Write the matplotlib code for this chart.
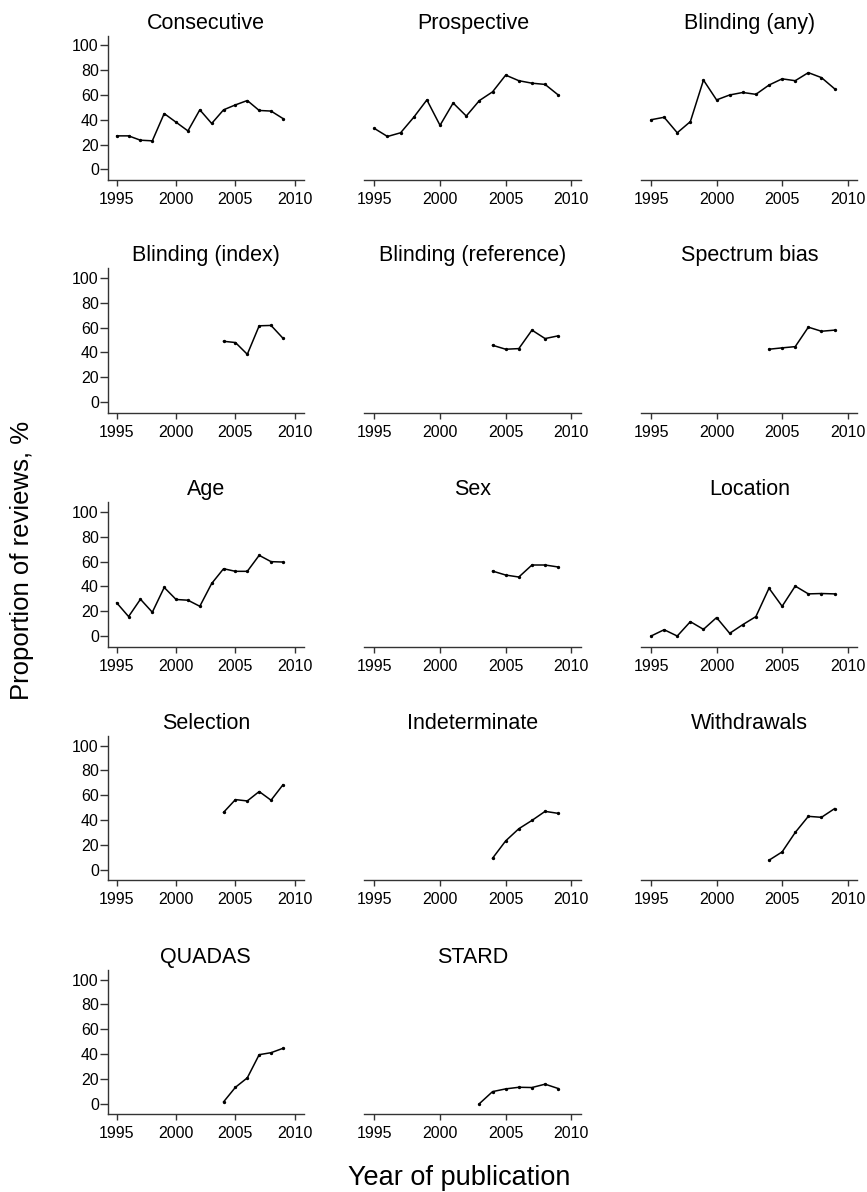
import matplotlib.pyplot as plt

plt.rcParams['font.family'] = ['Liberation Sans', 'DejaVu Sans']

# years
years = list(range(1995, 2010))
late_years = list(range(2004, 2010))
stard_years = list(range(2003, 2010))

# proportion of reviews (%)
consecutive = [27, 27, 23.5, 23, 45, 38, 31, 48, 37, 48, 52, 55.5, 47.5, 47, 41]
prospective = [33, 26.5, 29.5, 42, 56, 35.5, 53.5, 43, 55.5, 62.5, 76, 71.5, 69.5, 68.5, 60]
blinding_any = [40, 42, 29.5, 38.5, 72, 56, 60, 62, 60.5, 68, 73, 71.5, 78, 74, 65]
blinding_index = [49, 48, 38.5, 61.5, 61.8, 51.5]
blinding_reference = [45.8, 42.6, 43.1, 58, 51.2, 53.4]
spectrum_bias = [42.6, 43.7, 44.7, 60.4, 57.1, 58]
age = [26.8, 15.7, 29.7, 19.2, 39.2, 29.5, 28.9, 24, 42.4, 54.3, 52.2, 52.2, 65.1, 60, 59.7]
sex = [52.4, 49.2, 47.6, 57.3, 57.3, 55.7]
location = [0, 5.1, 0, 11.6, 5.4, 14.9, 2.2, 9.2, 15.7, 38.6, 24, 40.3, 34, 34.3, 34]
selection = [46.2, 56.5, 55.4, 63, 56, 68.4]
indeterminate = [9.2, 23.2, 33, 39.7, 47, 45.4]
withdrawals = [7.6, 14.3, 30, 43, 42.2, 49.2]
quadas = [1.4, 13.2, 20.8, 39.5, 41.1, 44.6]
stard = [0, 9.7, 11.9, 13.2, 13, 15.7, 12.2]

panels = [
    ("Consecutive", years, consecutive),
    ("Prospective", years, prospective),
    ("Blinding (any)", years, blinding_any),
    ("Blinding (index)", late_years, blinding_index),
    ("Blinding (reference)", late_years, blinding_reference),
    ("Spectrum bias", late_years, spectrum_bias),
    ("Age", years, age),
    ("Sex", late_years, sex),
    ("Location", years, location),
    ("Selection", late_years, selection),
    ("Indeterminate", late_years, indeterminate),
    ("Withdrawals", late_years, withdrawals),
    ("QUADAS", late_years, quadas),
    ("STARD", stard_years, stard),
]

W, H = 867, 1192
fig = plt.figure(figsize=(W / 100, H / 100), dpi=100)

# panel geometry in pixels
col_left = [107.8, 364.5, 641.2]
col_width = [195.9, 216.7, 216.3]
row_bottom = [180, 412.7, 646.7, 880.3, 1114.3]
ax_h = 144.3
axis_col = '#333333'

for i, (title, xs, ys) in enumerate(panels):
    r, c = divmod(i, 3)
    ax = fig.add_axes([col_left[c] / W, 1 - row_bottom[r] / H, col_width[c] / W, ax_h / H])
    ax.plot(xs, ys, color='black', lw=1.1, marker='o', ms=1.4)
    ax.set_xlim(1994.25, 2010.75)
    ax.set_ylim(-8.6, 107.8)
    ax.set_xticks([1995, 2000, 2005, 2010])
    ax.set_yticks(range(0, 101, 20))
    for s in ['top', 'right']:
        ax.spines[s].set_visible(False)
    for s in ['left', 'bottom']:
        ax.spines[s].set_color(axis_col)
        ax.spines[s].set_linewidth(1.0)
    if c > 0:
        ax.spines['left'].set_visible(False)
        ax.set_yticks([])
    ax.tick_params(axis='x', labelsize=11.5, length=4.5, width=1, color=axis_col, pad=4)
    ax.tick_params(axis='y', labelsize=11.5, length=5.5, width=1, color=axis_col, pad=1)
    ax.set_title(title, fontsize=15.5, pad=5)

fig.text(22 / W, 1 - 560 / H, 'Proportion of reviews, %', rotation=90,
         fontsize=18.5, ha='center', va='center')
fig.text(459 / W, 1 - 1185 / H, 'Year of publication',
         fontsize=19.5, ha='center', va='baseline')

fig.savefig('out.png', dpi=100)
